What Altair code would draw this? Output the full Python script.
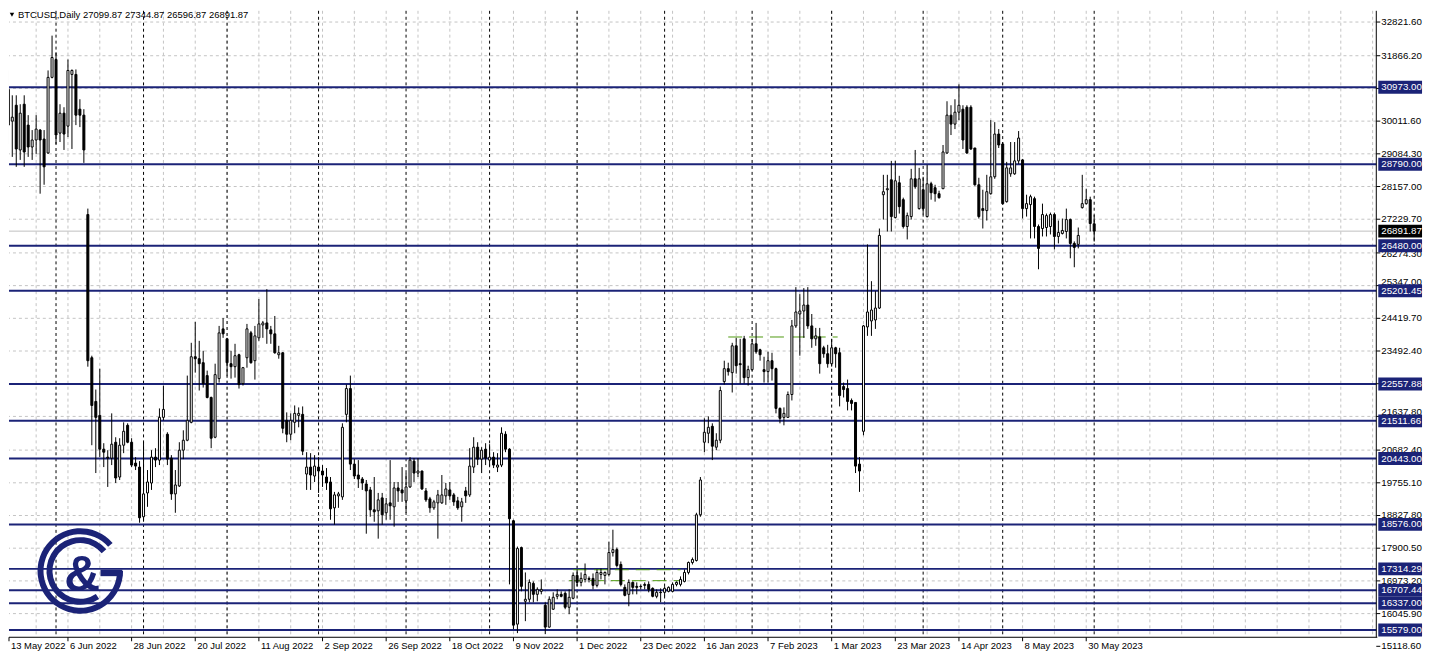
import altair as alt
import pandas as pd

# ---------------- data ----------------
OPEN = [
 28376, 30913, 30011, 30462, 29194, 30491, 29899, 29278, 29476, 29758,
 29504, 29109, 31252, 31759, 29673, 30237, 29870, 31336, 31336, 30350,
 30181, 27362, 23302, 22062, 21667, 20709, 20483, 20455, 20906, 19919,
 20821, 21385, 20906, 20314, 20201, 18792, 19468, 19750, 20483, 20399,
 21611, 21132, 20455, 19440, 19666, 20680, 20962, 21470, 23330, 23274,
 23161, 22795, 22175, 21047, 22710, 24120, 23838, 23133, 23048, 23387,
 22569, 23302, 24007, 23218, 23866, 24232, 24289, 24092, 23979, 23387,
 23443, 21526, 21132, 21470, 21667, 21696, 20004, 20201, 19948, 20201,
 20089, 19919, 19778, 19045, 19384, 19356, 21696, 22428, 20286, 19976,
 19863, 19722, 19553, 18989, 18961, 19327, 18905, 19186, 19074, 19609,
 19553, 19243, 19638, 20370, 20032, 20089, 19525, 19299, 19045, 19186,
 19186, 19384, 19553, 19412, 19243, 19074, 19525, 19412, 20201, 20765,
 20427, 20709, 20399, 20483, 20201, 20258, 21132, 20709, 18679, 15747,
 17918, 16395, 16452, 16903, 16592, 16677, 16283, 15663, 16170, 16536,
 16592, 16621, 16226, 16480, 17129, 16931, 17016, 17044, 17044, 16847,
 17157, 17129, 17157, 17777, 17861, 17439, 16790, 16592, 16931, 16818,
 16818, 16874, 16874, 16762, 16536, 16649, 16649, 16677, 16677, 16874,
 16874, 16959, 17213, 17495, 17552, 18848, 20906, 21160, 21357, 20765,
 20962, 22625, 22992, 22879, 23640, 23133, 23838, 22738, 22964, 23697,
 23528, 22964, 22908, 23218, 22992, 21864, 21611, 21611, 22259, 24204,
 24542, 24627, 24796, 24204, 23838, 23894, 23584, 23415, 23133, 23584,
 23443, 22485, 22428, 22090, 22034, 20286, 21216, 24176, 24345, 24373,
 24711, 27925, 28066, 28348, 27277, 28264, 27784, 27023, 27305, 28376,
 27531, 28066, 27305, 28235, 28123, 27954, 28095, 29109, 30181, 29927,
 30265, 30350, 30406, 30406, 29250, 28207, 27531, 27475, 27954, 28433,
 29645, 29363, 27728, 28517, 28517, 28884, 28912, 27531, 27644, 27813,
 27023, 26967, 26995, 27023, 27362, 26741, 26826, 26882, 27220, 26544,
 26516, 27559, 27672, 27784, 27099.87]

HIGH = [
 29758, 31449, 30744, 30744, 30491, 30744, 30181, 29758, 30181, 29786,
 29758, 31449, 32436, 31957, 30491, 30406, 31759, 31477, 31477, 30632,
 30350, 27531, 23359, 22400, 22992, 20878, 20680, 21724, 21047, 21019,
 21470, 21442, 21019, 20483, 20370, 20906, 20117, 20680, 20737, 21864,
 22513, 21188, 20540, 20117, 20906, 21244, 22795, 23725, 24317, 23781,
 23499, 22936, 22200, 23133, 24204, 24430, 23866, 23499, 23697, 23415,
 23040, 24261, 24063, 24204, 24965, 24345, 25247, 24204, 24486, 23640,
 23460, 21752, 21724, 21949, 21893, 21921, 20624, 20596, 20540, 20483,
 20258, 20173, 19919, 19497, 19497, 21442, 22541, 22795, 20427, 20399,
 19919, 19835, 19638, 19919, 19468, 19468, 19327, 20399, 19778, 19778,
 20201, 20032, 20483, 20455, 20455, 20100, 19609, 19356, 19271, 19553,
 19976, 19750, 19778, 19468, 19356, 19327, 19638, 20737, 21047, 20906,
 20765, 20878, 20850, 20624, 20596, 21329, 21216, 20737, 18707, 17946,
 17946, 17213, 17016, 16959, 16790, 17016, 16367, 16536, 16649, 16733,
 16677, 16677, 16733, 17213, 17298, 17213, 17467, 17100, 17185, 17298,
 17326, 17241, 18087, 18425, 17918, 17523, 16874, 17016, 16959, 16931,
 16874, 16931, 16959, 16790, 16733, 16762, 16818, 16818, 16931, 16959,
 17100, 17298, 17523, 17636, 18905, 19919, 21583, 21639, 21442, 21160,
 22485, 23218, 23161, 23725, 23866, 23838, 23922, 23076, 23838, 24289,
 23556, 23330, 23471, 23443, 23020, 21893, 21893, 22344, 24373, 25304,
 25106, 25276, 25304, 24542, 24148, 24148, 23640, 23668, 23838, 23612,
 23584, 22597, 22682, 22146, 22040, 20483, 24232, 26516, 25473, 25191,
 26966, 28489, 28489, 28884, 28884, 28461, 27841, 27418, 28658, 29194,
 28686, 28433, 28771, 28292, 28207, 28038, 29335, 30575, 30462, 30632,
 31054, 30462, 30462, 30462, 29250, 28405, 28066, 28489, 30040, 29983,
 29786, 29419, 28856, 29419, 29419, 29730, 28940, 27925, 27925, 27869,
 27080, 27672, 27390, 27418, 27418, 27192, 27249, 27531, 27249, 26600,
 26995, 28489, 28095, 27869, 27344.87]

LOW = [
 27954, 29363, 28997, 28715, 28912, 28715, 28997, 28912, 29081, 27954,
 28207, 29081, 31224, 29363, 29419, 29194, 29560, 29222, 29899, 29842,
 28828, 23048, 20821, 20032, 20483, 20201, 19638, 20258, 19750, 19835,
 20596, 20878, 20201, 20117, 18623, 18651, 19074, 19553, 20201, 20258,
 21526, 20258, 19271, 18905, 19638, 20427, 20934, 21442, 22879, 22372,
 22456, 22150, 20737, 21019, 22597, 23866, 22795, 22710, 22738, 22428,
 22513, 23020, 23133, 22682, 23781, 23866, 23697, 23697, 23415, 23274,
 21160, 20906, 20962, 21160, 21329, 20540, 19553, 19553, 19778, 19468,
 19638, 19553, 18707, 18566, 19045, 19271, 21470, 20117, 19863, 19609,
 19553, 18312, 18792, 18651, 18171, 18566, 18707, 18707, 18510, 19215,
 19215, 18905, 19609, 19778, 19919, 19553, 19215, 18905, 18989, 18171,
 19158, 19130, 19271, 19102, 18989, 18651, 19186, 19356, 20032, 20258,
 20032, 20258, 20229, 20173, 20060, 20201, 20624, 16874, 15606, 15493,
 16677, 15832, 16367, 16367, 16395, 16592, 15465, 15650, 16150, 16452,
 16508, 16170, 16029, 16452, 16818, 16818, 16931, 16931, 16733, 16790,
 17016, 16874, 17100, 17664, 17355, 16818, 16536, 16254, 16592, 16592,
 16733, 16733, 16649, 16508, 16480, 16367, 16536, 16649, 16649, 16818,
 16818, 16931, 17157, 17439, 17523, 18792, 20624, 20878, 20399, 20680,
 20878, 22541, 22795, 22316, 22851, 22569, 22569, 22513, 22936, 23415,
 23218, 22597, 22597, 22654, 21724, 21442, 21385, 21600, 22090, 24148,
 23359, 23866, 24120, 23584, 23640, 22851, 23302, 23020, 23048, 23020,
 21921, 22175, 21808, 21808, 20032, 19497, 21103, 23922, 23922, 24120,
 24683, 27220, 26882, 26882, 27249, 27390, 26967, 26657, 27220, 28095,
 27502, 27362, 27277, 27784, 27728, 27813, 28095, 29081, 29617, 29786,
 30040, 29222, 29081, 29194, 28179, 27249, 26967, 27192, 27925, 28376,
 29250, 27643, 27700, 28433, 28489, 28799, 27249, 27305, 26685, 26685,
 25811, 26741, 26741, 26797, 26375, 26544, 26797, 26685, 26122, 25868,
 26403, 27531, 27644, 26882, 26596.87]

CLOSE = [
 29758, 29899, 30124, 29222, 30237, 29137, 29278, 29476, 29786, 29476,
 28715, 31252, 31816, 29617, 30237, 29645, 31449, 31449, 30181, 30181,
 29194, 23218, 21949, 21611, 20709, 20624, 20455, 20850, 19891, 20821,
 21216, 20906, 20258, 20229, 18763, 19440, 19778, 20483, 20399, 21611,
 21836, 20427, 19440, 19694, 20680, 20962, 21526, 23330, 23274, 23133,
 22569, 22175, 21019, 22823, 24007, 23979, 23161, 23048, 23359, 22541,
 23020, 24120, 23161, 23922, 24261, 24289, 24120, 23979, 23443, 23443,
 21301, 21132, 21526, 21724, 21724, 20652, 20201, 19976, 20229, 20089,
 19976, 19750, 19017, 19412, 19440, 21329, 22428, 20286, 19948, 19863,
 19750, 19525, 18989, 18932, 19271, 18848, 19158, 19102, 19609, 19525,
 19468, 19638, 20399, 20032, 20089, 19581, 19271, 19045, 19215, 19412,
 19412, 19581, 19384, 19215, 19045, 19215, 19384, 20229, 20765, 20427,
 20680, 20455, 20483, 20258, 20258, 21160, 20709, 18735, 15719, 17890,
 16818, 16452, 16931, 16592, 16733, 16733, 15663, 16452, 16508, 16592,
 16536, 16226, 16508, 17129, 16931, 17044, 17157, 17016, 16847, 17213,
 17213, 17213, 17777, 17861, 17411, 16874, 16564, 16931, 16790, 16790,
 16810, 16847, 16733, 16536, 16649, 16640, 16762, 16790, 16874, 16931,
 17016, 17213, 17495, 17580, 18848, 19835, 21188, 21329, 20793, 20962,
 22372, 22992, 22908, 23640, 23076, 23105, 22738, 22964, 23697, 23471,
 23387, 22908, 23218, 22992, 21864, 21583, 21724, 22259, 24204, 24599,
 24627, 24796, 24204, 23838, 23922, 23133, 23415, 23133, 23584, 23415,
 22231, 22400, 22062, 22006, 20229, 20089, 24204, 24599, 24655, 24711,
 26770, 28010, 28095, 27305, 28320, 27587, 27023, 27333, 28376, 28151,
 28376, 27531, 28235, 27982, 27954, 27841, 29137, 30181, 29927, 30265,
 30462, 29476, 29109, 29222, 28207, 27305, 27475, 28010, 28433, 29645,
 29335, 27672, 28686, 28686, 28884, 29532, 27531, 27672, 27869, 27023,
 26403, 27362, 27333, 27362, 26741, 26854, 26910, 27220, 26544, 26431,
 26770, 27672, 27784, 27108, 26891.87]

DATE_LABELS = ["13 May 2022", "6 Jun 2022", "28 Jun 2022", "20 Jul 2022", "11 Aug 2022",
               "2 Sep 2022", "26 Sep 2022", "18 Oct 2022", "9 Nov 2022", "1 Dec 2022",
               "23 Dec 2022", "16 Jan 2023", "7 Feb 2023", "1 Mar 2023", "23 Mar 2023",
               "14 Apr 2023", "8 May 2023", "30 May 2023"]
DATE_LABEL_BARS = [0, 16, 32, 48, 64, 80, 96, 112, 128, 144, 160, 176, 192, 208, 224, 240, 256, 272]
MONTH_START_BARS = [13, 35, 56, 79, 101, 122, 144, 166, 188, 208, 231, 251, 274]

PRICE_TICKS = [32821.60, 31866.20, 30938.90, 30011.60, 29084.30, 28157.00, 27229.70,
               26274.30, 25347.00, 24419.70, 23492.40, 22565.10, 21637.80, 20682.40,
               19755.10, 18827.80, 17900.50, 16973.20, 16045.90, 15118.60]
LEVELS = [30973.00, 28790.00, 26480.00, 25201.45, 22557.88, 21511.66, 20443.00,
          18576.00, 17314.29, 16707.44, 16337.00, 15579.00]

GREEN_START = [143, 142, 182]
GREEN_END = [170, 170, 209.5]
GREEN_PRICE = [17290, 16980, 23890]

SYMBOL = "BTCUSD,Daily"

# ---------------- layout / style ----------------
W, H = 1375, 630
X0 = 1.175                 # left edge of the visible window, in bars
X1 = X0 + W / 4.0          # 4 px per bar
Y0, Y1 = 15374.6, 33140.3
NAVY = "#1b2377"
GRID = "#c4c4c4"
FONT = "Liberation Sans"
PX = (Y1 - Y0) / H  # price units per pixel

xs = alt.Scale(domain=[X0, X1], zero=False, nice=False, padding=0)
ys = alt.Scale(domain=[Y0, Y1], zero=False, nice=False, padding=0)


def X(f):
    return alt.X(f, scale=xs, axis=None)


def Y(f):
    return alt.Y(f, scale=ys, axis=None)


candles = pd.DataFrame({"i": list(range(len(OPEN))), "open": OPEN, "high": HIGH,
                        "low": LOW, "close": CLOSE})
one = pd.DataFrame({"k": [0]})

vgrid = alt.Chart(pd.DataFrame({"g": [g for g in range(0, 346, 8) if g > X0]})).mark_rule(
    color=GRID, strokeDash=[3, 3], strokeWidth=1).encode(x=X("g:Q"))
hgrid = alt.Chart(pd.DataFrame({"p": [v for v in PRICE_TICKS if Y0 <= v <= Y1]})).mark_rule(
    color=GRID, strokeDash=[3, 3], strokeWidth=1).encode(y=Y("p:Q"))
seps = alt.Chart(pd.DataFrame({"m": MONTH_START_BARS})).mark_rule(
    color="black", strokeDash=[3, 3], strokeWidth=1).encode(x=X("m:Q"))
bid_line = alt.Chart(pd.DataFrame({"p": [CLOSE[-1]]})).mark_rule(
    color="#c0c0c0", strokeWidth=1).encode(y=Y("p:Q"))
levels = alt.Chart(pd.DataFrame({"price": LEVELS})).mark_rule(
    color=NAVY, strokeWidth=2).encode(y=Y("price:Q"))
green = alt.Chart(pd.DataFrame({"a": GREEN_START, "b": GREEN_END, "p": GREEN_PRICE})).mark_rule(
    color="#4f9a10", strokeDash=[14, 7], strokeWidth=1).encode(
    x=X("a:Q"), x2="b:Q", y=Y("p:Q"))

wicks = alt.Chart(candles).mark_rule(color="black", strokeWidth=1, clip=True).encode(
    x=X("i:Q"), y=Y("low:Q"), y2="high:Q")
bodies = alt.Chart(candles).mark_bar(size=2, stroke="black", strokeWidth=1, clip=True).encode(
    x=X("i:Q"), y=Y("open:Q"), y2="close:Q",
    fill=alt.condition("datum.close >= datum.open", alt.value("white"), alt.value("black")))

# logo
outer = alt.Chart(one).mark_arc(radius=43, radius2=37, theta=1.5708, theta2=7.14,
                                color=NAVY).encode(x=alt.value(71.7), y=alt.value(563.3))
inner = alt.Chart(one).mark_arc(radius=34, radius2=28, theta=2.55, theta2=7.16,
                                color=NAVY).encode(x=alt.value(71.7), y=alt.value(563.3))
gbar = alt.Chart(one).mark_rule(color=NAVY, strokeWidth=6.5).encode(
    x=alt.value(92), x2=alt.value(114), y=alt.value(565.3))
amp = alt.Chart(one).mark_text(text="&", fontSize=50, fontWeight="bold", font=FONT,
                               color=NAVY, align="center", baseline="middle").encode(
    x=alt.value(73.7), y=alt.value(568))

# header
title_str = f"{SYMBOL}  {OPEN[-1]:.2f} {HIGH[-1]:.2f} {LOW[-1]:.2f} {CLOSE[-1]:.2f}"
tri = alt.Chart(one).mark_point(shape="triangle-down", filled=True, size=20,
                                color="black", opacity=1).encode(x=alt.value(3), y=alt.value(4))
title = alt.Chart(pd.DataFrame({"t": [title_str]})).mark_text(
    align="left", baseline="middle", font=FONT, fontSize=9.5, color="black").encode(
    x=alt.value(9), y=alt.value(4), text="t:N")

# axes drawn by hand
right_line = alt.Chart(one).mark_rule(color="black", strokeWidth=1).encode(
    x=alt.value(W), y=alt.value(0), y2=alt.value(H))
bottom_line = alt.Chart(one).mark_rule(color="black", strokeWidth=1).encode(
    x=alt.value(0), x2=alt.value(W + 1), y=alt.value(H))

# tick labels that sit half under a level box are nudged just clear of it
boxes = LEVELS + [CLOSE[-1]]
label_pos = []
for v in PRICE_TICKS:
    near = min(boxes, key=lambda b: abs(b - v))
    d = abs(near - v) / PX
    if 2 < d < 8.5:
        v = near + (8.5 * PX if v > near else -8.5 * PX)
    label_pos.append(v)
tick_df = pd.DataFrame({"p": PRICE_TICKS, "lp": label_pos})
y_ticks = alt.Chart(tick_df).mark_rule(color="black", strokeWidth=1).encode(
    x=alt.value(W), x2=alt.value(W + 4), y=Y("p:Q"))
y_labels = alt.Chart(tick_df).mark_text(align="left", baseline="middle", font=FONT,
                                        fontSize=9.8, color="black").encode(
    x=alt.value(W + 5), y=Y("lp:Q"), text=alt.Text("p:Q", format=".2f"))
date_df = pd.DataFrame({"b": DATE_LABEL_BARS, "lab": DATE_LABELS})
date_df["bx"] = [max(b, X0) for b in DATE_LABEL_BARS]
x_ticks = alt.Chart(date_df).mark_rule(color="black", strokeWidth=1).encode(
    x=X("bx:Q"), y=alt.value(H), y2=alt.value(H + 4))
x_labels = alt.Chart(date_df).mark_text(align="left", baseline="top", font=FONT,
                                        fontSize=9.5, color="black", dx=2).encode(
    x=X("bx:Q"), y=alt.value(H + 4), text="lab:N")

# price boxes on the right scale
lvl_df = pd.DataFrame({"price": LEVELS})
lvl_box = alt.Chart(lvl_df).mark_rule(color=NAVY, strokeWidth=13).encode(
    x=alt.value(W + 2), x2=alt.value(W + 46), y=Y("price:Q"))
lvl_txt = alt.Chart(lvl_df).mark_text(align="left", baseline="middle", font=FONT,
                                      fontSize=9.8, color="white").encode(
    x=alt.value(W + 5), y=Y("price:Q"), text=alt.Text("price:Q", format=".2f"))
bid_df = pd.DataFrame({"price": [CLOSE[-1]]})
bid_box = alt.Chart(bid_df).mark_rule(color="black", strokeWidth=13).encode(
    x=alt.value(W + 2), x2=alt.value(W + 46), y=Y("price:Q"))
bid_txt = alt.Chart(bid_df).mark_text(align="left", baseline="middle", font=FONT,
                                      fontSize=9.8, color="white").encode(
    x=alt.value(W + 5), y=Y("price:Q"), text=alt.Text("price:Q", format=".2f"))

chart = alt.layer(
    vgrid, hgrid, seps, bid_line, levels, green,
    outer, inner, gbar, amp,
    wicks, bodies,
    tri, title,
    right_line, bottom_line, y_ticks, y_labels, x_ticks, x_labels,
    lvl_box, lvl_txt, bid_box, bid_txt,
).properties(width=W, height=H, padding=0).configure_view(strokeWidth=0)

chart.save("out.html", embed_options={"renderer": "svg", "actions": False})
